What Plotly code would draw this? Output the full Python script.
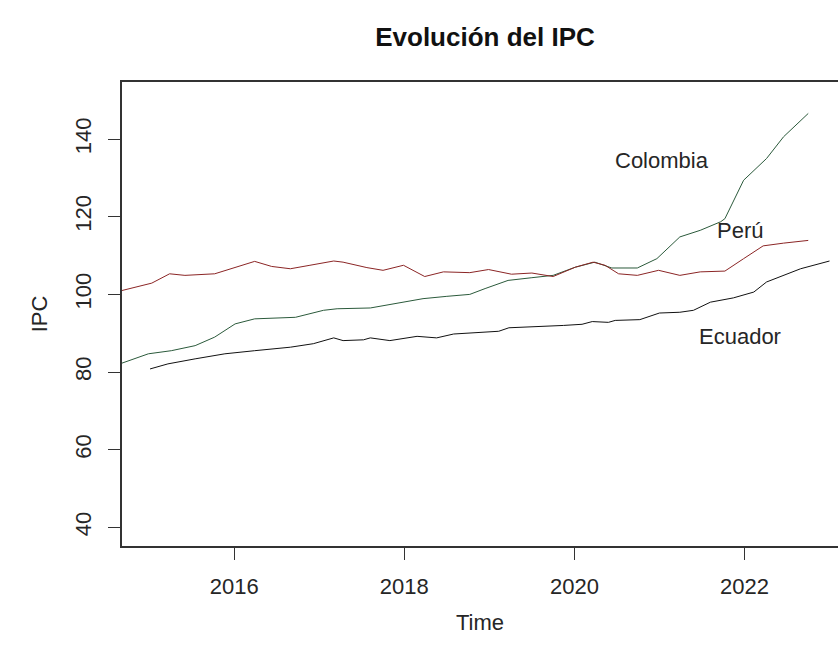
import plotly.graph_objects as go

# Consumer price index (IPC) by country, decimal-year time stamps
colombia_t = [2014.68, 2014.99, 2015.26, 2015.54, 2015.77, 2016.01, 2016.24, 2016.72,
              2017.05, 2017.21, 2017.60, 2017.83, 2018.22, 2018.50, 2018.77, 2018.95,
              2019.22, 2019.50, 2019.75, 2020.01, 2020.24, 2020.44, 2020.74, 2020.97,
              2021.24, 2021.48, 2021.72, 2021.77, 2021.99, 2022.26, 2022.46, 2022.75]
colombia_v = [82.3, 84.7, 85.5, 86.8, 89.0, 92.4, 93.7, 94.1,
              95.9, 96.3, 96.5, 97.4, 98.9, 99.5, 100.0, 101.5,
              103.6, 104.3, 104.9, 107.0, 108.3, 106.8, 106.8, 109.2,
              114.8, 116.5, 118.7, 119.5, 129.4, 135.0, 140.6, 146.6]

peru_t = [2014.68, 2015.03, 2015.24, 2015.42, 2015.77, 2016.24, 2016.44, 2016.66,
          2016.89, 2017.17, 2017.28, 2017.56, 2017.75, 2017.99, 2018.24, 2018.46,
          2018.77, 2018.99, 2019.26, 2019.50, 2019.75, 2020.01, 2020.22, 2020.36,
          2020.52, 2020.74, 2020.99, 2021.24, 2021.48, 2021.77, 2021.99, 2022.22,
          2022.46, 2022.75]
peru_v = [101.0, 102.9, 105.3, 104.9, 105.3, 108.5, 107.2, 106.6,
          107.5, 108.6, 108.3, 106.9, 106.2, 107.5, 104.6, 105.8,
          105.6, 106.4, 105.2, 105.5, 104.6, 107.0, 108.3, 107.5,
          105.3, 104.9, 106.2, 104.9, 105.8, 106.0, 109.2, 112.5,
          113.2, 113.9]

ecuador_t = [2015.01, 2015.22, 2015.54, 2015.89, 2016.24, 2016.66, 2016.93, 2017.17,
             2017.28, 2017.52, 2017.60, 2017.83, 2018.15, 2018.38, 2018.58, 2018.77,
             2019.11, 2019.23, 2019.54, 2019.87, 2020.09, 2020.21, 2020.40, 2020.48,
             2020.77, 2021.00, 2021.24, 2021.40, 2021.60, 2021.87, 2022.11, 2022.26,
             2022.66, 2022.81, 2023.00]
ecuador_v = [80.8, 82.1, 83.4, 84.7, 85.5, 86.4, 87.3, 88.8,
             88.1, 88.3, 88.8, 88.1, 89.2, 88.8, 89.8, 90.0,
             90.5, 91.4, 91.6, 92.0, 92.3, 93.0, 92.8, 93.3,
             93.5, 95.2, 95.4, 95.9, 98.0, 99.1, 100.6, 103.2,
             106.6, 107.5, 108.6]

# Series labels placed inside the panel
label_text = ["Colombia", "Perú", "Ecuador"]
label_t = [2021.03, 2021.95, 2021.95]
label_v = [134.6, 116.5, 89.2]

x_ticks = [2016, 2018, 2020, 2022]
y_ticks = [40, 60, 80, 100, 120, 140]

FONT = "Liberation Sans, Arial, Helvetica, sans-serif"
INK = "#333333"
TEXT = "#262626"

fig = go.Figure()
fig.add_trace(go.Scatter(x=colombia_t, y=colombia_v, mode="lines", name="Colombia",
                         line=dict(color="#2b5a3b", width=1)))
fig.add_trace(go.Scatter(x=peru_t, y=peru_v, mode="lines", name="Perú",
                         line=dict(color="#8b2525", width=1)))
fig.add_trace(go.Scatter(x=ecuador_t, y=ecuador_v, mode="lines", name="Ecuador",
                         line=dict(color="#111111", width=1)))

for txt, tx, ty in zip(label_text, label_t, label_v):
    fig.add_annotation(x=tx, y=ty, text=txt, showarrow=False,
                       font=dict(family=FONT, size=22, color=TEXT),
                       xanchor="center", yanchor="middle")

fig.update_layout(
    width=838, height=654,
    margin=dict(l=122, r=0, t=82, b=108),
    paper_bgcolor="white", plot_bgcolor="white",
    showlegend=False,
    font=dict(family=FONT, size=22, color=TEXT),
    title=dict(text="Evolución del IPC", x=485 / 838, xanchor="center",
               y=1 - 37 / 654, yanchor="middle",
               font=dict(family=FONT, size=26, weight="bold", color="#111111")),
)

fig.update_xaxes(
    range=[2014.68, 2023.10], tickmode="array", tickvals=x_ticks,
    ticktext=[str(v) for v in x_ticks],
    showgrid=False, zeroline=False,
    showline=True, linecolor=INK, linewidth=1.5, mirror=True,
    ticks="outside", ticklen=12, tickcolor=INK, tickwidth=1,
    ticklabelstandoff=8,
    tickfont=dict(family=FONT, size=22, color=TEXT),
    title=dict(text="Time", font=dict(family=FONT, size=22, color=TEXT), standoff=16),
)
fig.update_yaxes(
    range=[35.2, 154.7], tickmode="array", tickvals=y_ticks,
    ticktext=[str(v) for v in y_ticks], tickangle=-90,
    showgrid=False, zeroline=False,
    showline=True, linecolor=INK, linewidth=1.5, mirror=False,
    ticks="outside", ticklen=12, tickcolor=INK, tickwidth=1,
    ticklabelstandoff=8,
    tickfont=dict(family=FONT, size=22, color=TEXT),
    title=dict(text="IPC", font=dict(family=FONT, size=22, color=TEXT), standoff=18),
)

fig.write_html("out.html")
